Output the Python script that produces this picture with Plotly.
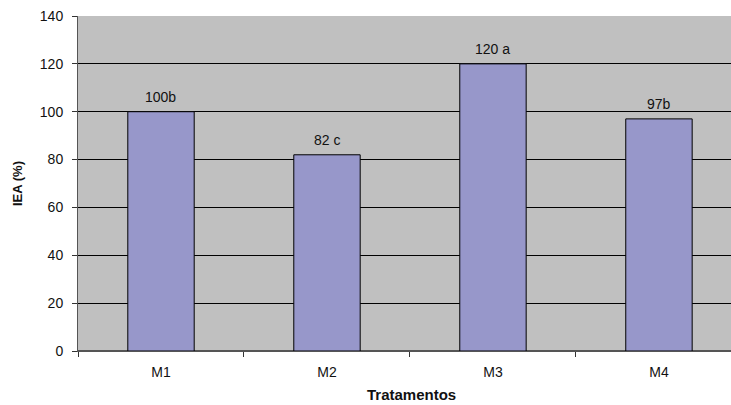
import plotly.graph_objects as go

# Treatments and land equivalent index values with significance letters
tratamentos = ["M1", "M2", "M3", "M4"]
iea = [100, 82, 120, 97]
letras = ["100b", "82 c", "120 a", "97b"]

FONT = "Liberation Sans, Arial, sans-serif"
INK = "#111111"

fig = go.Figure(
    go.Bar(
        x=tratamentos,
        y=iea,
        marker=dict(color="#9797CA", line=dict(color="#000000", width=1)),
        width=0.4,
        hoverinfo="x+y",
    )
)

# Value labels above each bar
annotations = [
    dict(
        x=t, y=v, xref="x", yref="y", text=lab,
        showarrow=False, yanchor="bottom", yshift=5,
        font=dict(family=FONT, size=14, color=INK),
    )
    for t, v, lab in zip(tratamentos, iea, letras)
]

annotations.append(
    dict(
        text="<b>Tratamentos</b>",
        xref="paper", yref="paper",
        x=(411 - 78) / (731 - 78), y=0,
        yshift=-54, xanchor="center", yanchor="bottom",
        showarrow=False,
        font=dict(family=FONT, size=15, color=INK),
    )
)

fig.update_layout(
    width=731,
    height=405,
    margin=dict(l=78, r=0, t=16, b=54),
    paper_bgcolor="white",
    plot_bgcolor="#C0C0C0",
    showlegend=False,
    font=dict(family=FONT, size=14, color=INK),
    annotations=annotations,
)

fig.update_xaxes(
    type="category",
    range=[-0.5, 3.434],
    tickson="boundaries",
    ticks="outside",
    ticklen=5,
    tickcolor="#333333",
    ticklabelstandoff=8,
    showgrid=False,
    showline=True,
    linecolor="#555555",
    linewidth=1,
    tickfont=dict(family=FONT, size=14, color=INK),
)

fig.update_yaxes(
    range=[0, 140],
    dtick=20,
    ticks="outside",
    ticklen=5,
    tickcolor="#333333",
    ticklabelstandoff=6,
    showgrid=True,
    gridcolor="#000000",
    gridwidth=1,
    zeroline=True,
    zerolinecolor="#555555",
    showline=True,
    linecolor="#555555",
    linewidth=1,
    tickfont=dict(family=FONT, size=14, color=INK),
    title=dict(text="<b>IEA (%)</b>", font=dict(family=FONT, size=13, color=INK), standoff=14),
)

fig.write_html("out.html")
